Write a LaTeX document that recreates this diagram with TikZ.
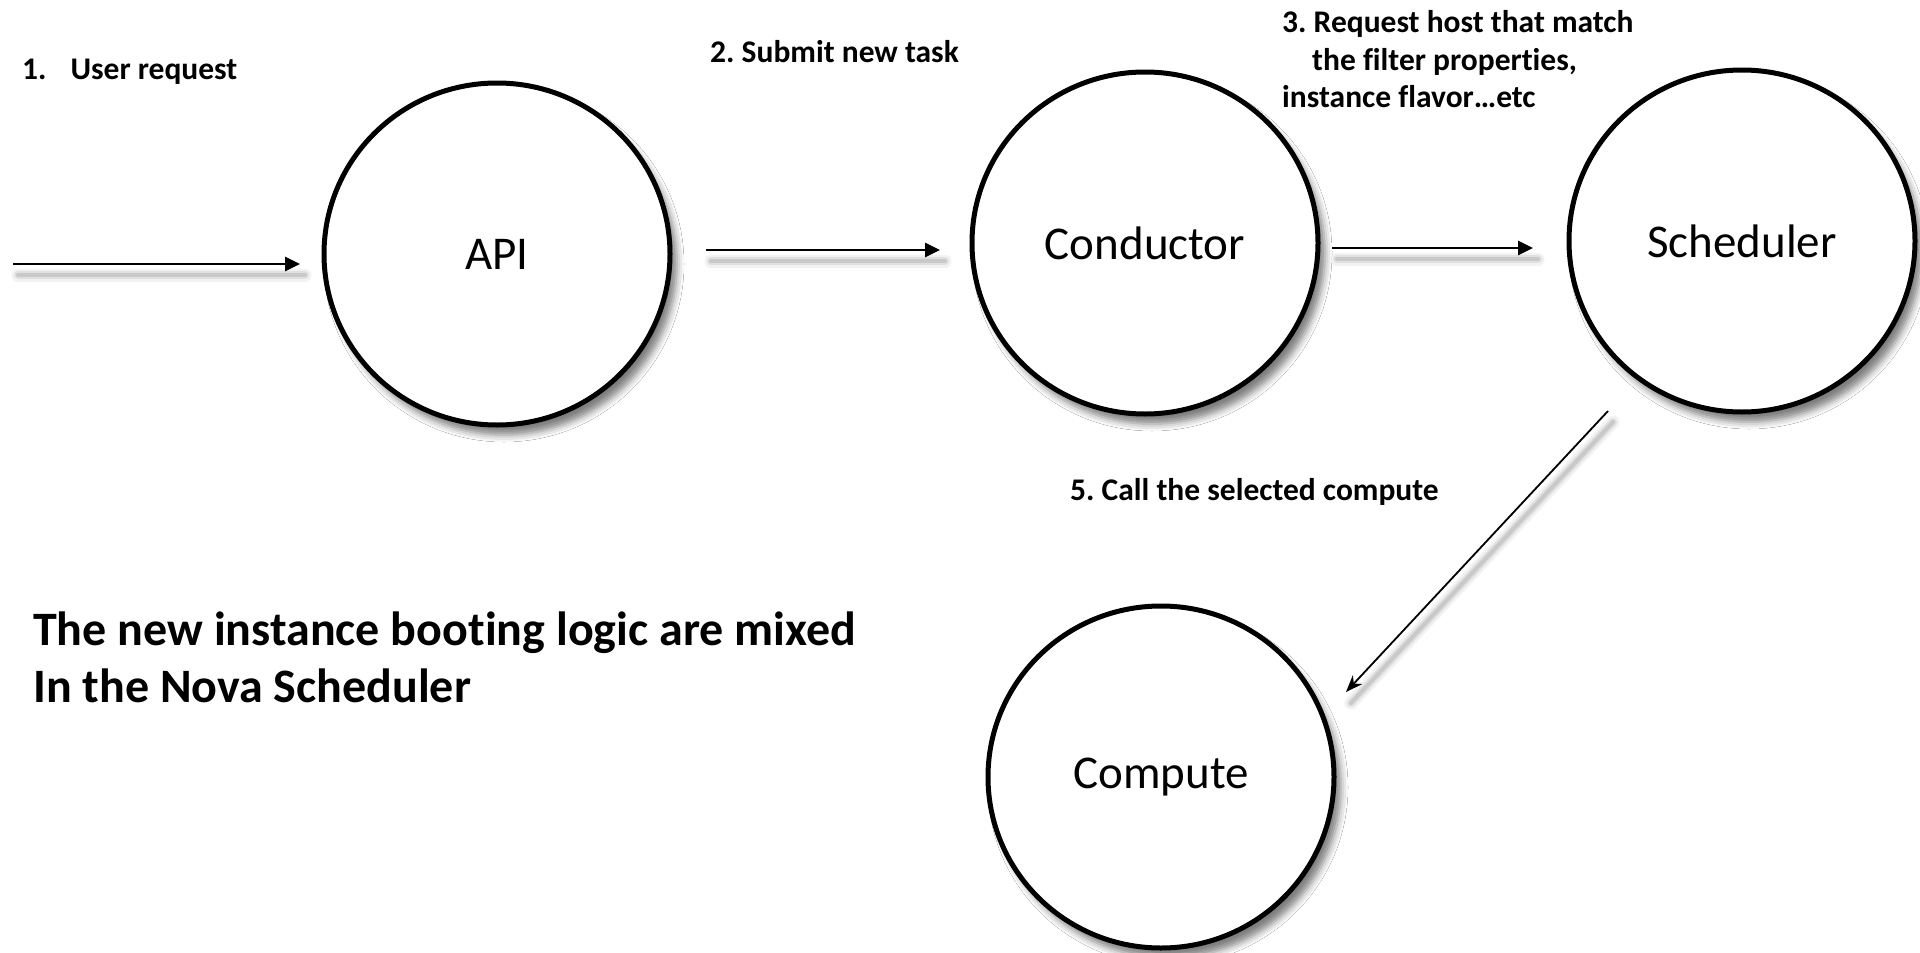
\documentclass[tikz,border=0pt]{standalone}
\usepackage{fontspec}
\setmainfont{Carlito}[Ligatures={NoCommon}]
\usetikzlibrary{arrows.meta,shapes.geometric,shadows.blur}
\frenchspacing

\tikzset{
  proc/.style={ellipse, draw=black, line width=5pt, fill=white,
    minimum width=346pt, minimum height=342pt, inner sep=0pt, outer sep=0pt,
    font=\fontsize{47}{56}\selectfont,
    blur shadow={shadow xshift=7pt, shadow yshift=-10pt,
      shadow blur radius=7pt, shadow opacity=50}},
  note/.style={anchor=base west, inner sep=0pt,
    font=\bfseries\fontsize{31.5}{37}\selectfont},
  headline/.style={anchor=base west, inner sep=0pt,
    font=\bfseries\fontsize{48}{57}\selectfont},
  softshadow/.style={
    preaction={draw=black, draw opacity=0.05, line width=13pt, line cap=round,
      arrows=-, transform canvas={shift={(5pt,-11pt)}}},
    preaction={draw=black, draw opacity=0.07, line width=8pt, line cap=round,
      arrows=-, transform canvas={shift={(5pt,-11pt)}}},
    preaction={draw=black, draw opacity=0.10, line width=4pt, line cap=round,
      arrows=-, transform canvas={shift={(5pt,-11pt)}}}},
  flow/.style={softshadow, draw=black, line width=2.6pt,
    -{Triangle[length=15pt,width=14pt]}},
  flowdiag/.style={softshadow, draw=black, line width=1.8pt,
    -{Stealth[length=17pt,width=13pt]}},
}

\begin{document}
\begin{tikzpicture}[x=1pt, y=-1pt]
  % page area
  \fill[white] (0,0) rectangle (1920,953);
  \useasboundingbox (0,0) rectangle (1920,953);

  % services
  \node[proc] (api)       at (497,254)  {API};
  \node[proc] (conductor) at (1145,243) {Conductor};
  \node[proc] (scheduler) at (1742,241) {Scheduler};
  \node[proc] (compute)   at (1161,777) {Compute};

  % step labels
  \node[note] (l1)  at (22,79)    {1.\hspace{24pt}User request};
  \node[note] (l2)  at (710,62)   {2. Submit new task};
  \node[note] (l3a) at (1282,32)  {3. Request host that match};
  \node[note] (l3b) at (1312,70)  {the filter properties,};
  \node[note] (l3c) at (1282,107) {instance flavor…etc};
  \node[note] (l5)  at (1070,500) {5. Call the selected compute};

  % remark
  \node[headline] (h1) at (33,645) {The new instance booting logic are mixed};
  \node[headline] (h2) at (33,702) {In the Nova Scheduler};

  % flow of the request
  \coordinate (src) at (13,264);
  \draw[flow] (src) -- ([shift={(-24,10)}]api.west);
  \draw[flow] ([shift={(36,-4)}]api.east) -- ([shift={(-32,7)}]conductor.west);
  \draw[flow] ([shift={(14,5)}]conductor.east) -- ([shift={(-36,7)}]scheduler.west);
  \draw[flowdiag] ([shift={(-134,170)}]scheduler.center) -- ([shift={(185,-85)}]compute.center);
\end{tikzpicture}
\end{document}
